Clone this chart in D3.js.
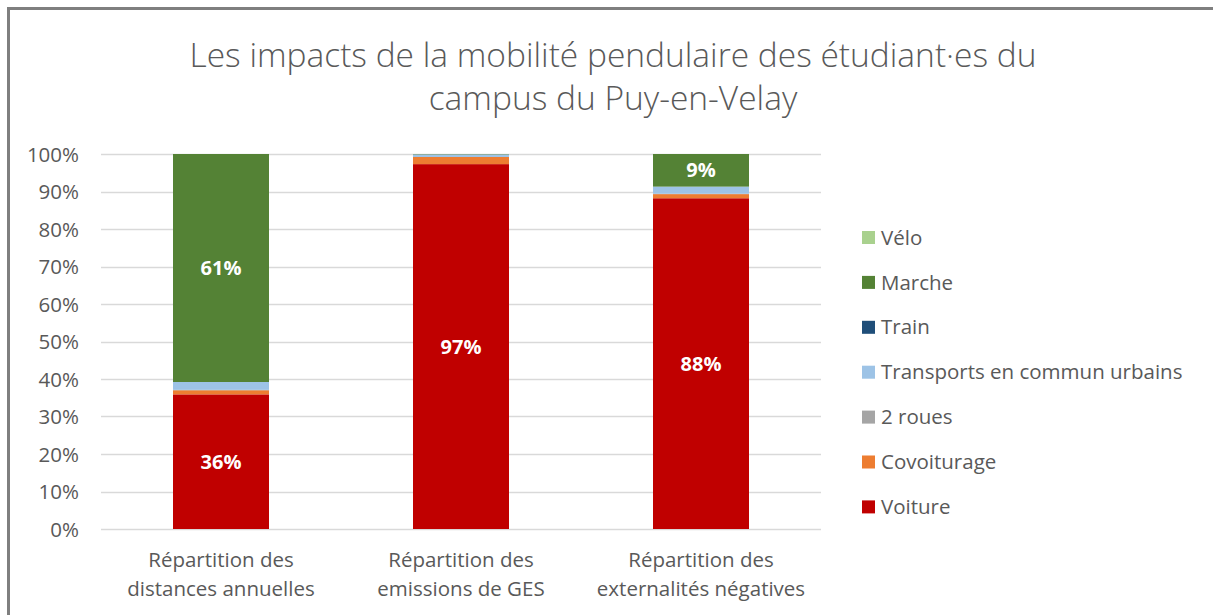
<!DOCTYPE html>
<html>
<head>
<meta charset="utf-8">
<script src="https://cdn.jsdelivr.net/npm/d3@7"></script>
<style>
  body { margin: 0; background: #fff; }
  text { font-family: "Open Sans", "Noto Sans", sans-serif; fill: #595959; }
</style>
</head>
<body>
<svg id="chart" width="1213" height="615"></svg>
<script>
// categories (x axis), two lines each
const categories = ["distances", "ges", "externalites"];
const categoryLabels = [
  ["Répartition des", "distances annuelles"],
  ["Répartition des", "emissions de GES"],
  ["Répartition des", "externalités négatives"]
];

// series, in stacking order (bottom to top)
const seriesNames = ["Voiture", "Covoiturage", "2 roues", "Transports en commun urbains", "Train", "Marche", "Vélo"];
const seriesColors = ["#C00000", "#ED7D31", "#A5A5A5", "#9DC3E6", "#1F4E79", "#548235", "#A9D18E"];

// shares per category (%)
const voiture     = [35.9, 97.3, 88.2];
const covoiturage = [1.1, 1.9, 1.1];
const deuxRoues   = [0.1, 0.0, 0.1];
const transports  = [2.1, 0.7, 1.9];
const train       = [0.0, 0.0, 0.0];
const marche      = [60.8, 0.1, 8.7];
const velo        = [0.0, 0.0, 0.0];

const yTicks = [0, 10, 20, 30, 40, 50, 60, 70, 80, 90, 100];
const titleLines = ["Les impacts de la mobilité pendulaire des étudiant·es du", "campus du Puy-en-Velay"];

const seriesValues = [voiture, covoiturage, deuxRoues, transports, train, marche, velo];

const table = categories.map((c, i) => {
  const row = { cat: c };
  seriesNames.forEach((s, j) => { row[s] = seriesValues[j][i]; });
  return row;
});

const svg = d3.select("#chart");

// outer frame (cropped on the right and bottom)
svg.append("rect")
  .attr("x", 8.5).attr("y", 8.5)
  .attr("width", 1300).attr("height", 700)
  .attr("fill", "none")
  .attr("stroke", "#7f7f7f")
  .attr("stroke-width", 3);

// fit text to a target width
function fitText(sel, targetW, baseSize) {
  sel.style("font-size", baseSize + "px");
  const w = sel.node().getComputedTextLength();
  sel.style("font-size", (baseSize * targetW / w) + "px");
}

// title
const t1 = svg.append("text")
  .attr("x", 613).attr("y", 67)
  .attr("text-anchor", "middle")
  .style("font-weight", 300)
  .text(titleLines[0]);
fitText(t1, 847, 30);
const titleSize = t1.style("font-size");
svg.append("text")
  .attr("x", 613).attr("y", 110)
  .attr("text-anchor", "middle")
  .style("font-weight", 300)
  .style("font-size", titleSize)
  .text(titleLines[1]);

const x = d3.scaleBand()
  .domain(categories)
  .range([101, 821])
  .paddingInner(0.6)
  .paddingOuter(0.3);

const y = d3.scaleLinear()
  .domain([0, 100])
  .range([529, 154]);

// gridlines
svg.append("g")
  .selectAll("line")
  .data(yTicks)
  .join("line")
  .attr("x1", 101).attr("x2", 821)
  .attr("y1", d => Math.round(y(d)) + 0.5)
  .attr("y2", d => Math.round(y(d)) + 0.5)
  .attr("stroke", "#d9d9d9")
  .attr("stroke-width", 1.3);

// y axis labels
const yAxis = svg.append("g")
  .attr("transform", "translate(79,0)")
  .call(d3.axisLeft(y).tickValues(yTicks).tickFormat(d => d + "%").tickSize(0).tickPadding(0));
yAxis.select(".domain").remove();
yAxis.selectAll("text")
  .style("font-size", "20.5px")
  .style("font-family", "'Open Sans', 'Noto Sans', sans-serif")
  .attr("fill", "#595959")
  .attr("dy", "0.35em");

// stacked bars
const stack = d3.stack().keys(seriesNames)(table);

const layers = svg.append("g")
  .selectAll("g")
  .data(stack)
  .join("g")
  .attr("fill", (d, i) => seriesColors[i]);

layers.selectAll("rect")
  .data(d => d)
  .join("rect")
  .attr("x", d => x(d.data.cat))
  .attr("width", x.bandwidth())
  .attr("y", d => y(d[1]))
  .attr("height", d => y(d[0]) - y(d[1]));

// data labels for the large segments
layers.selectAll("text")
  .data(d => d.filter(p => p[1] - p[0] >= 5))
  .join("text")
  .attr("x", d => x(d.data.cat) + x.bandwidth() / 2)
  .attr("y", d => y((d[0] + d[1]) / 2))
  .attr("dy", "0.35em")
  .attr("text-anchor", "middle")
  .style("font-size", "20px")
  .style("font-weight", "bold")
  .style("fill", "#fff")
  .text(d => Math.round(d[1] - d[0]) + "%");

// x axis labels
const xl = svg.append("g")
  .selectAll("text")
  .data(categories)
  .join("text")
  .attr("x", d => x(d) + x.bandwidth() / 2)
  .attr("y", 567)
  .attr("text-anchor", "middle")
  .style("font-size", "20.5px");
xl.selectAll("tspan")
  .data((d, i) => categoryLabels[i])
  .join("tspan")
  .attr("x", function () { return this.parentNode.getAttribute("x"); })
  .attr("dy", (d, i) => i === 0 ? 0 : 29)
  .text(d => d);

// legend, reversed order
const legendItems = seriesNames.map((s, i) => ({ name: s, color: seriesColors[i] })).reverse();
const leg = svg.append("g")
  .selectAll("g")
  .data(legendItems)
  .join("g")
  .attr("transform", (d, i) => `translate(862,${231 + i * 44.9})`);
leg.append("rect")
  .attr("width", 13).attr("height", 13)
  .attr("fill", d => d.color);
leg.append("text")
  .attr("x", 19).attr("y", 6.5)
  .attr("dy", "0.35em")
  .style("font-size", "20.5px")
  .text(d => d.name);
</script>
</body>
</html>
